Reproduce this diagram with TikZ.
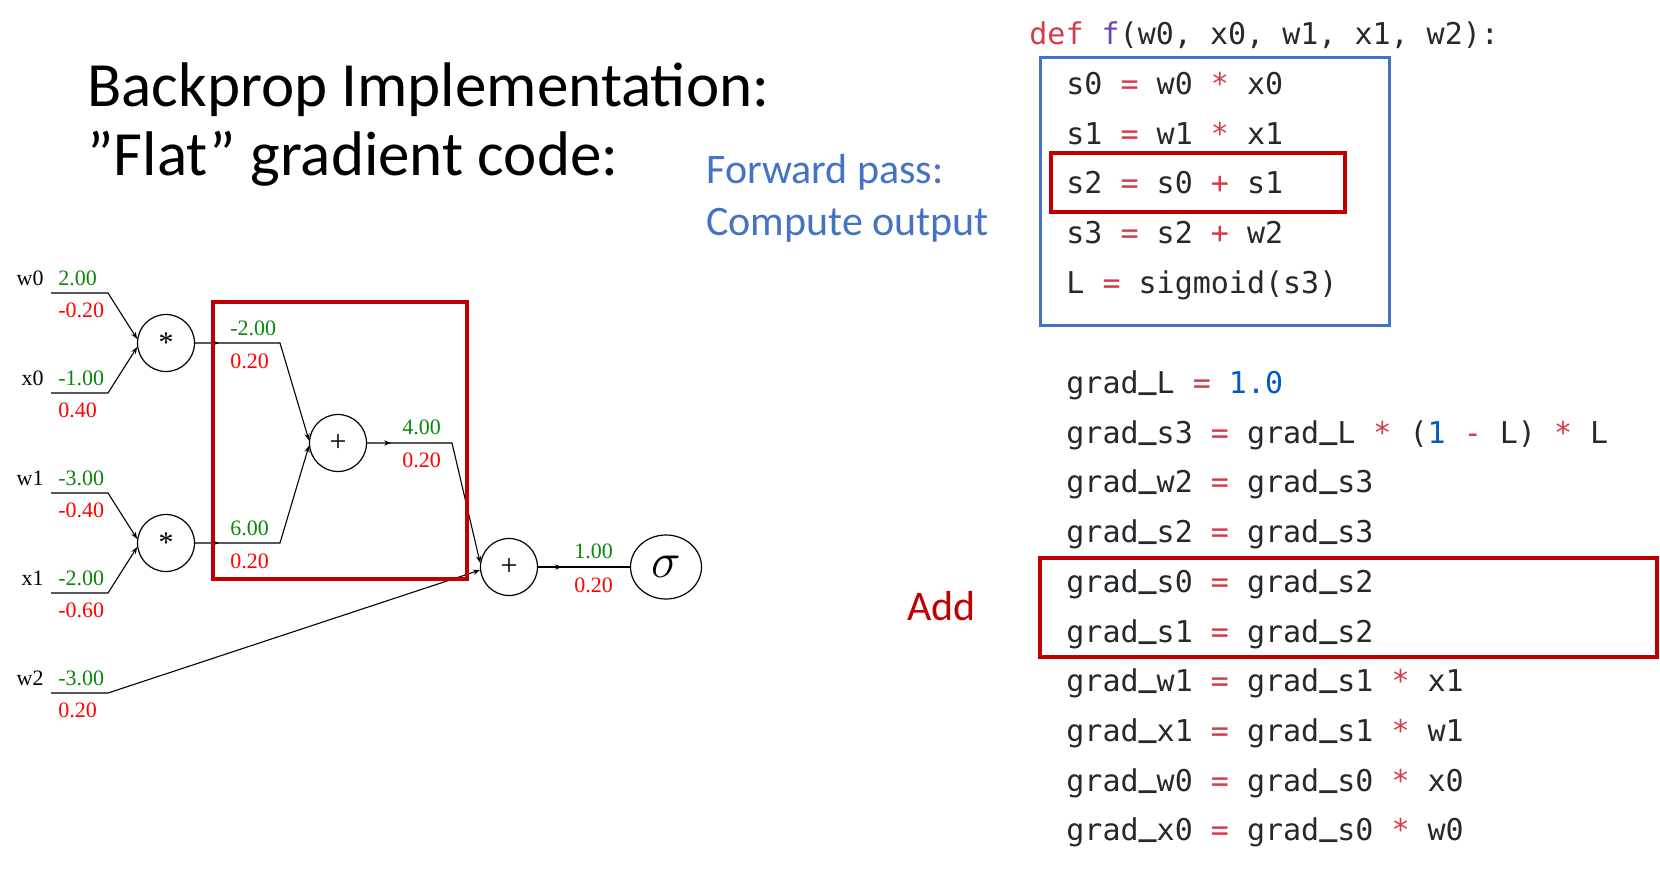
\documentclass[tikz,border=0pt]{standalone}
\usepackage{fontspec}
\setmainfont{Carlito}
\setmonofont{DejaVu Sans Mono}
\newfontfamily\graphfont{Liberation Serif}
\usepackage{xcolor}
\usetikzlibrary{positioning,calc,arrows.meta,shapes.geometric,decorations.markings}

\definecolor{boxred}{RGB}{192,0,0}
\definecolor{boxblue}{RGB}{68,114,196}
\definecolor{fwdgreen}{RGB}{10,135,10}
\definecolor{gradred}{RGB}{255,0,0}
\definecolor{kwred}{RGB}{215,58,73}
\definecolor{kwpurple}{RGB}{111,66,193}
\definecolor{numblue}{RGB}{0,92,197}
\definecolor{codeink}{RGB}{36,41,46}

\newcommand{\kw}[1]{\textcolor{kwred}{#1}}
\newcommand{\cnum}[1]{\textcolor{numblue}{#1}}
\newcommand{\us}{\raisebox{0.15em}{\bfseries\char"5F}}

\begin{document}
\begin{tikzpicture}[
    x=0.5pt, y=-0.5pt,
    gate/.style={draw, circle, line width=0.6pt, minimum size=28.5pt, inner sep=0pt, font=\graphfont\fontsize{15}{15}\selectfont},
    varname/.style={anchor=base east, inner sep=0pt, font=\graphfont\fontsize{11}{13}\selectfont},
    fwdval/.style={anchor=base west, inner sep=0pt, text=fwdgreen, font=\graphfont\fontsize{11}{13}\selectfont},
    gradval/.style={anchor=base west, inner sep=0pt, text=gradred, font=\graphfont\fontsize{11}{13}\selectfont},
    wire/.style={line width=0.55pt},
    feed/.style={wire, -{Stealth[length=3.5pt,width=2.6pt]}},
    outwire/.style={wire, postaction={decorate}, decoration={markings, mark=at position 12pt with {\arrow{Stealth[length=3.5pt,width=2.6pt]}}}},
    codeline/.style={anchor=base west, inner sep=0pt, text=codeink, font=\ttfamily\fontsize{15}{18}\selectfont},
    slide/.style={anchor=base west, inner sep=0pt, font=\fontsize{31.5}{34}\selectfont},
    note/.style={anchor=base west, inner sep=0pt, font=\fontsize{21}{24}\selectfont},
    hilite/.style={draw=boxred, line width=2pt}
  ]
    \useasboundingbox (0,0) rectangle (1660,873);

    % title and side notes
    \node[slide] (title1) at (87,106) {Backprop Implementation:};
    \node[slide] (title2) at (87,175) {”Flat” gradient code:};
    \node[note, text=boxblue] (fwd1) at (706,183) {Forward pass:};
    \node[note, text=boxblue] (fwd2) at (706,235) {Compute output};
    \node[note, text=boxred] (addnote) at (907,620) {Add};

    % inputs
    \coordinate (w0a) at (51,293); \coordinate (w0b) at (108,293);
    \coordinate (x0a) at (51,393); \coordinate (x0b) at (108,393);
    \coordinate (w1a) at (51,493); \coordinate (w1b) at (108,493);
    \coordinate (x1a) at (51,593); \coordinate (x1b) at (108,593);
    \coordinate (w2a) at (51,693); \coordinate (w2b) at (108,693);
    \node[varname] (w0n) at (44,285) {w0};
    \node[fwdval] (w0f) at (58,285) {2.00};
    \node[gradval] (w0g) at (58,317) {-0.20};
    \node[varname] (x0n) at (44,385) {x0};
    \node[fwdval] (x0f) at (58,385) {-1.00};
    \node[gradval] (x0g) at (58,417) {0.40};
    \node[varname] (w1n) at (44,485) {w1};
    \node[fwdval] (w1f) at (58,485) {-3.00};
    \node[gradval] (w1g) at (58,517) {-0.40};
    \node[varname] (x1n) at (44,585) {x1};
    \node[fwdval] (x1f) at (58,585) {-2.00};
    \node[gradval] (x1g) at (58,617) {-0.60};
    \node[varname] (w2n) at (44,685) {w2};
    \node[fwdval] (w2f) at (58,685) {-3.00};
    \node[gradval] (w2g) at (58,717) {0.20};

    % gates
    \node[gate] (m1) at (166,343) {*};
    \node[gate] (m2) at (166,543) {*};
    \node[gate] (a1) at (338,443) {+};
    \node[gate] (a2) at (509,567) {+};
    \node[draw, ellipse, line width=0.6pt, minimum width=35.5pt, minimum height=32pt, inner sep=0pt] (sig) at (666,567) {\fontsize{28}{28}\selectfont$\sigma$};

    % intermediate values
    \coordinate (s0b) at (280,343);
    \coordinate (s1b) at (280,543);
    \coordinate (s2b) at (452,443);
    \node[fwdval] (s0f) at (230,335) {-2.00};
    \node[gradval] (s0g) at (230,368) {0.20};
    \node[fwdval] (s1f) at (230,535) {6.00};
    \node[gradval] (s1g) at (230,568) {0.20};
    \node[fwdval] (s2f) at (402,434) {4.00};
    \node[gradval] (s2g) at (402,467) {0.20};
    \node[fwdval] (s3f) at (574,558) {1.00};
    \node[gradval] (s3g) at (574,592) {0.20};

    \draw[feed] (w0a) -- (w0b) -- (m1.172);
    \draw[feed] (x0a) -- (x0b) -- (m1.188);
    \draw[feed] (w1a) -- (w1b) -- (m2.172);
    \draw[feed] (x1a) -- (x1b) -- (m2.188);
    \draw[outwire, feed] (m1.east) -- (s0b) -- (a1.175);
    \draw[outwire, feed] (m2.east) -- (s1b) -- (a1.185);
    \draw[outwire, feed] (a1.east) -- (s2b) -- (a2.172);
    \draw[feed] (w2a) -- (w2b) -- (a2.186);
    \draw[outwire] (a2.east) -- (sig.west);

    \draw[hilite] (213,302) rectangle (467,579);

    % code
    \node[codeline] (def) at (1029,44) {\kw{def} \textcolor{kwpurple}{f}(w0, x0, w1, x1, w2):};
    \node[codeline] (s0) at (1066,94) {s0 \kw{=} w0 \kw{*} x0};
    \node[codeline] (s1) at (1066,144) {s1 \kw{=} w1 \kw{*} x1};
    \node[codeline] (s2) at (1066,193) {s2 \kw{=} s0 \kw{+} s1};
    \node[codeline] (s3) at (1066,243) {s3 \kw{=} s2 \kw{+} w2};
    \node[codeline] (L) at (1066,293) {L \kw{=} sigmoid(s3)};
    \node[codeline] (gL) at (1066,393) {grad\us L \kw{=} \cnum{1.0}};
    \node[codeline] (gs3) at (1066,443) {grad\us s3 \kw{=} grad\us L \kw{*} (\cnum{1} \kw{-} L) \kw{*} L};
    \node[codeline] (gw2) at (1066,492) {grad\us w2 \kw{=} grad\us s3};
    \node[codeline] (gs2) at (1066,542) {grad\us s2 \kw{=} grad\us s3};
    \node[codeline] (gs0) at (1066,592) {grad\us s0 \kw{=} grad\us s2};
    \node[codeline] (gs1) at (1066,642) {grad\us s1 \kw{=} grad\us s2};
    \node[codeline] (gw1) at (1066,691) {grad\us w1 \kw{=} grad\us s1 \kw{*} x1};
    \node[codeline] (gx1) at (1066,741) {grad\us x1 \kw{=} grad\us s1 \kw{*} w1};
    \node[codeline] (gw0) at (1066,791) {grad\us w0 \kw{=} grad\us s0 \kw{*} x0};
    \node[codeline] (gx0) at (1066,840) {grad\us x0 \kw{=} grad\us s0 \kw{*} w0};

    \draw[draw=boxblue, line width=1.5pt] (1040,57) rectangle (1389,325);
    \draw[hilite] (1051,153) rectangle (1345,212);
    \draw[hilite] (1040,558) rectangle (1657,657);
  \end{tikzpicture}
\end{document}
